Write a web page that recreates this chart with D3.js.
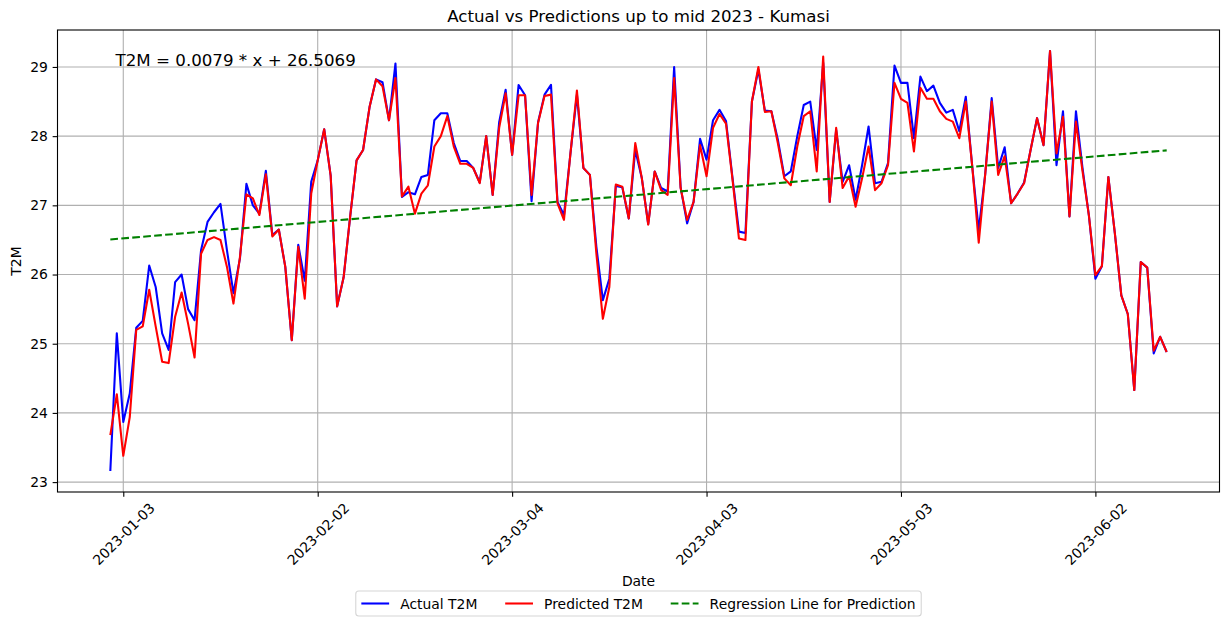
<!DOCTYPE html>
<html>
<head>
<meta charset="utf-8">
<script src="https://cdn.jsdelivr.net/npm/d3@7"></script>
<style>
body { margin: 0; background: #fff; }
text { font-family: "DejaVu Sans", sans-serif; fill: #000; }
</style>
</head>
<body>
<svg id="chart" width="1229" height="626"></svg>
<script>
var startDate = "2023-01-01";
var actual = [
	23.16, 25.15, 23.87, 24.28, 25.23, 25.33, 26.13, 25.82, 25.15, 24.91,
	25.89, 26.00, 25.50, 25.34, 26.35, 26.76, 26.90, 27.02, 26.35, 25.73,
	26.23, 27.31, 27.00, 26.88, 27.50, 26.57, 26.65, 26.11, 25.05, 26.43,
	25.91, 27.34, 27.65, 28.10, 27.43, 25.54, 25.96, 26.83, 27.65, 27.80,
	28.42, 28.82, 28.78, 28.23, 29.05, 27.12, 27.19, 27.16, 27.41, 27.44,
	28.23, 28.33, 28.33, 27.90, 27.64, 27.64, 27.54, 27.33, 28.00, 27.15,
	28.20, 28.67, 27.73, 28.74, 28.59, 27.06, 28.20, 28.60, 28.74, 27.05,
	26.86, 27.75, 28.60, 27.54, 27.44, 26.40, 25.63, 25.94, 27.28, 27.26,
	26.81, 27.80, 27.40, 26.73, 27.49, 27.25, 27.20, 29.00, 27.26, 26.74,
	27.05, 27.96, 27.66, 28.23, 28.38, 28.22, 27.40, 26.62, 26.60, 28.50,
	28.96, 28.37, 28.36, 27.95, 27.42, 27.49, 28.00, 28.45, 28.50, 27.80,
	29.06, 27.05, 28.09, 27.34, 27.58, 27.08, 27.58, 28.14, 27.32, 27.34,
	27.61, 29.02, 28.77, 28.77, 27.97, 28.86, 28.65, 28.73, 28.48, 28.34,
	28.38, 28.07, 28.57, 27.56, 26.64, 27.45, 28.55, 27.54, 27.84, 27.03,
	27.17, 27.33, 27.80, 28.26, 27.87, 29.23, 27.58, 28.36, 26.84, 28.36,
	27.55, 26.85, 25.94, 26.12, 27.41, 26.60, 25.70, 25.43, 24.33, 26.18,
	26.10, 24.86, 25.10, 24.88
];
var predicted = [
	23.68, 24.27, 23.38, 23.94, 25.20, 25.25, 25.78, 25.25, 24.74, 24.72,
	25.39, 25.74, 25.29, 24.80, 26.30, 26.50, 26.54, 26.50, 26.11, 25.58,
	26.25, 27.16, 27.10, 26.86, 27.45, 26.55, 26.65, 26.11, 25.05, 26.40,
	25.65, 27.17, 27.65, 28.10, 27.43, 25.54, 25.96, 26.83, 27.65, 27.80,
	28.42, 28.82, 28.72, 28.23, 28.84, 27.13, 27.27, 26.88, 27.17, 27.29,
	27.85, 28.00, 28.29, 27.85, 27.60, 27.60, 27.54, 27.32, 28.00, 27.15,
	28.12, 28.62, 27.73, 28.59, 28.59, 27.15, 28.19, 28.58, 28.60, 27.03,
	26.79, 27.75, 28.66, 27.54, 27.44, 26.30, 25.36, 25.82, 27.30, 27.27,
	26.81, 27.90, 27.40, 26.72, 27.49, 27.22, 27.15, 28.84, 27.25, 26.79,
	27.05, 27.87, 27.42, 28.12, 28.32, 28.18, 27.38, 26.52, 26.50, 28.50,
	29.00, 28.35, 28.36, 27.90, 27.39, 27.29, 27.85, 28.29, 28.36, 27.49,
	29.15, 27.05, 28.12, 27.25, 27.42, 26.98, 27.39, 27.85, 27.22, 27.32,
	27.58, 28.77, 28.54, 28.48, 27.78, 28.70, 28.54, 28.54, 28.36, 28.25,
	28.21, 27.97, 28.50, 27.56, 26.46, 27.45, 28.50, 27.44, 27.71, 27.03,
	27.17, 27.32, 27.80, 28.26, 27.87, 29.23, 27.75, 28.28, 26.84, 28.21,
	27.50, 26.85, 25.99, 26.12, 27.41, 26.60, 25.70, 25.43, 24.33, 26.18,
	26.10, 24.90, 25.10, 24.88
];
var tickLabels = ["2023-01-03", "2023-02-02", "2023-03-04", "2023-04-03", "2023-05-03", "2023-06-02"];
var yTicks = [23, 24, 25, 26, 27, 28, 29];
var regSlope = 0.0079;
var regIntercept = 26.5069;
var seriesNames = ["Actual T2M", "Predicted T2M", "Regression Line for Prediction"];
var seriesColors = ["blue", "red", "green"];

var parse = d3.utcParse("%Y-%m-%d");
var dates = actual.map(function(d, i) { return d3.utcDay.offset(parse(startDate), i); });
var tickDates = tickLabels.map(parse);
var n = actual.length;

var box = {left: 57.5, right: 1219.5, top: 30, bottom: 492};
var fs = 13.89;
var day = 864e5;
var xPad = 0.05 * (n - 1) * day;

var svg = d3.select("#chart");

var x = d3.scaleUtc()
	.domain([+dates[0] - xPad, +dates[n - 1] + xPad])
	.range([box.left, box.right]);
var y = d3.scaleLinear()
	.domain([22.857, 29.534])
	.range([box.bottom, box.top]);

// grid
svg.append("g").selectAll("line")
	.data(tickDates)
	.enter().append("line")
	.attr("x1", function(d) { return x(d); })
	.attr("x2", function(d) { return x(d); })
	.attr("y1", box.top).attr("y2", box.bottom)
	.attr("stroke", "#b0b0b0").attr("stroke-width", 1.1);
svg.append("g").selectAll("line")
	.data(yTicks)
	.enter().append("line")
	.attr("y1", function(d) { return y(d); })
	.attr("y2", function(d) { return y(d); })
	.attr("x1", box.left).attr("x2", box.right)
	.attr("stroke", "#b0b0b0").attr("stroke-width", 1.1);

var line = d3.line()
	.x(function(d, i) { return x(dates[i]); })
	.y(function(d) { return y(d); });

svg.append("path")
	.attr("d", line(actual))
	.attr("fill", "none").attr("stroke", "blue").attr("stroke-width", 2.08)
	.attr("stroke-linejoin", "round");
svg.append("path")
	.attr("d", line(predicted))
	.attr("fill", "none").attr("stroke", "red").attr("stroke-width", 2.08)
	.attr("stroke-linejoin", "round");

var regIdx = [0, n - 1];
svg.append("path")
	.attr("d", d3.line()
		.x(function(d) { return x(dates[d]); })
		.y(function(d) { return y(regSlope * d + regIntercept); })(regIdx))
	.attr("fill", "none").attr("stroke", "green").attr("stroke-width", 2.08)
	.attr("stroke-dasharray", "7.7,3.3");

// axes
var xAxis = svg.append("g")
	.attr("transform", "translate(0," + box.bottom + ")")
	.call(d3.axisBottom(x)
		.tickValues(tickDates)
		.tickFormat(d3.utcFormat("%Y-%m-%d"))
		.tickSize(4.86)
		.tickSizeOuter(0));
xAxis.selectAll("text")
	.attr("x", 0).attr("y", 0).attr("dy", null)
	.attr("text-anchor", "middle")
	.attr("dominant-baseline", "central")
	.attr("transform", "translate(0,42) rotate(-45)");

var yAxis = svg.append("g")
	.attr("transform", "translate(" + box.left + ",0)")
	.call(d3.axisLeft(y)
		.tickValues(yTicks)
		.tickFormat(d3.format("d"))
		.tickSize(4.86)
		.tickPadding(4.86)
		.tickSizeOuter(0));

svg.selectAll(".domain").remove();
svg.selectAll(".tick line").attr("stroke", "#000").attr("stroke-width", 1.1);
svg.selectAll(".tick text")
	.style("font-family", "DejaVu Sans")
	.style("font-size", fs + "px")
	.attr("fill", "#000");

svg.append("rect")
	.attr("x", box.left).attr("y", box.top)
	.attr("width", box.right - box.left)
	.attr("height", box.bottom - box.top)
	.attr("fill", "none").attr("stroke", "#000").attr("stroke-width", 1.1);

var cx = (box.left + box.right) / 2;

svg.append("text")
	.attr("x", cx).attr("y", 21.7)
	.attr("text-anchor", "middle")
	.style("font-size", "16.67px")
	.text("Actual vs Predictions up to mid 2023 - Kumasi");

svg.append("text")
	.attr("x", box.left + 0.05 * (box.right - box.left))
	.attr("y", 65.5)
	.style("font-size", "16.67px")
	.text("T2M = " + regSlope + " * x + " + regIntercept);

svg.append("text")
	.attr("x", cx).attr("y", 586)
	.attr("text-anchor", "middle")
	.style("font-size", fs + "px")
	.text("Date");

svg.append("text")
	.attr("transform", "translate(21.3," + ((box.top + box.bottom) / 2) + ") rotate(-90)")
	.attr("text-anchor", "middle")
	.style("font-size", fs + "px")
	.text("T2M");

// legend
var legend = svg.append("g");
var frame = legend.append("rect");
var items = legend.selectAll("g")
	.data(seriesNames)
	.enter().append("g");
items.append("line")
	.attr("x1", 0).attr("x2", 27.8)
	.attr("stroke", function(d, i) { return seriesColors[i]; })
	.attr("stroke-width", 2.08)
	.attr("stroke-dasharray", function(d, i) { return i == 2 ? "7.7,3.3" : null; });
items.append("text")
	.attr("x", 38.9)
	.attr("dominant-baseline", "central")
	.style("font-size", fs + "px")
	.text(function(d) { return d; });

var widths = [];
items.select("text").each(function() { widths.push(this.getComputedTextLength()); });
var total = 2 * 5.56 + d3.sum(widths) + 3 * 38.9 + 2 * 27.8;
var lx = cx - total / 2;
var ly = 603.5;
var off = lx + 5.56;
items.attr("transform", function(d, i) {
	var t = "translate(" + off + "," + ly + ")";
	off += 38.9 + widths[i] + 27.8;
	return t;
});
frame.attr("x", lx).attr("y", ly - 12.5)
	.attr("width", total).attr("height", 25)
	.attr("rx", 3).attr("ry", 3)
	.attr("fill", "#fff").attr("fill-opacity", 0.8)
	.attr("stroke", "#d6d6d6").attr("stroke-width", 1.1);
</script>
</body>
</html>
